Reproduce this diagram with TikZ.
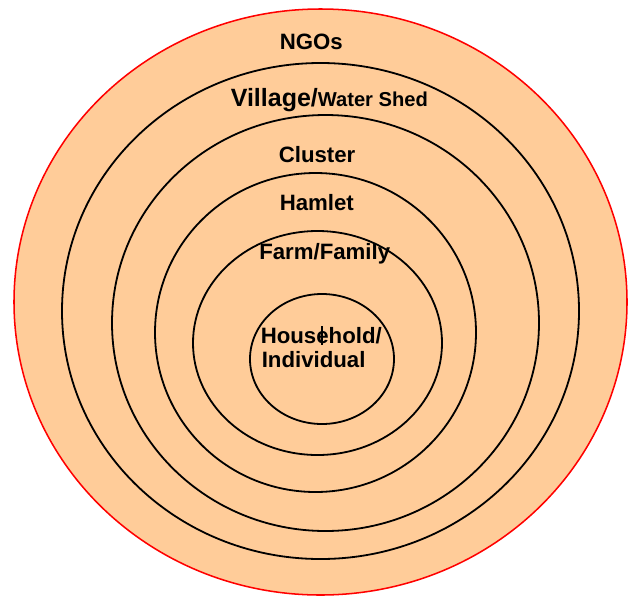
\documentclass[tikz,border=0pt]{standalone}
\usepackage{fontspec}
\setmainfont{Liberation Sans}
\definecolor{peach}{HTML}{FFCC99}
\begin{document}
\begin{tikzpicture}[x=0.72pt,y=-0.72pt,
  ring/.style={draw=black,line width=1.3pt},
  lbl/.style={inner sep=0pt,anchor=base west,font=\bfseries\fontsize{16}{19}\selectfont}]
\useasboundingbox (0,0) rectangle (628,596);
% outer level: NGOs
\draw[fill=peach,draw=red,line width=1.1pt] (320.5,302) ellipse [x radius=306.5, y radius=293];
% nested levels
\draw[ring] (320.5,311) ellipse [x radius=258.5, y radius=248];
\draw[ring] (325.5,323) ellipse [x radius=213.5, y radius=208];
\draw[ring] (315.5,332.5) ellipse [x radius=160.5, y radius=159.5];
\draw[ring] (317.5,343) ellipse [x radius=124.5, y radius=112];
\draw[ring] (322,359) ellipse [x radius=72, y radius=65];
% labels
\node[lbl] (ngo) at (279.5,49) {NGOs};
\node[lbl] (vil) at (230.5,106) {\fontsize{18}{21}\selectfont Village/\fontsize{14.5}{17}\selectfont Water Shed};
\node[lbl] (clu) at (278.5,162) {Cluster};
\node[lbl] (ham) at (279.5,210) {Hamlet};
\node[lbl] (farm) at (259,259) {Farm/Family};
\node[lbl] (hh) at (260.5,343) {Household/};
\node[lbl] (ind) at (261.5,367) {Individual};
\draw[line width=1.3pt] (322,326) -- (322,345);
\end{tikzpicture}
\end{document}
